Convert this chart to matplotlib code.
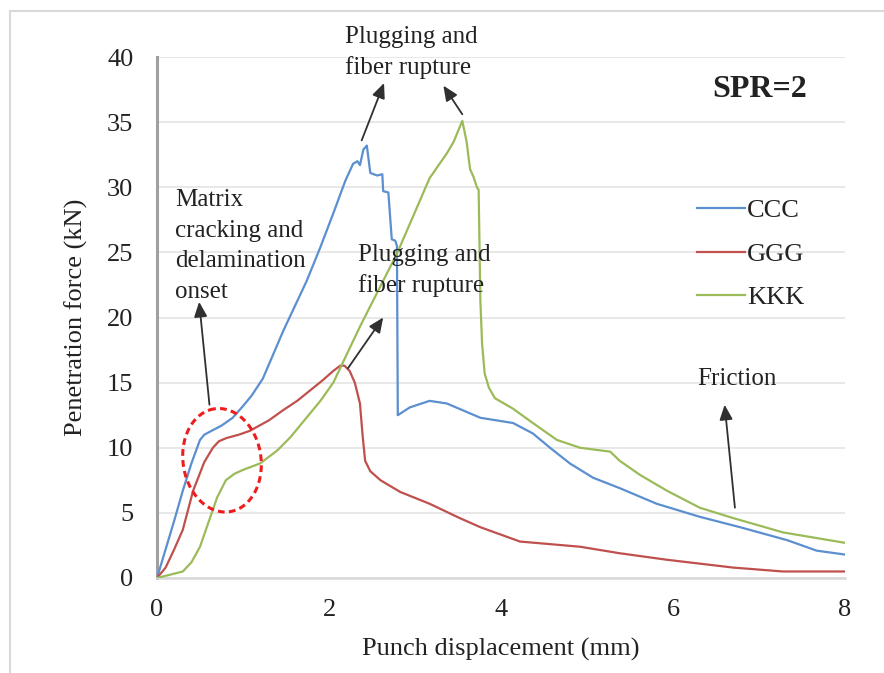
import numpy as np
import matplotlib
matplotlib.use('Agg')
import matplotlib.pyplot as plt
from matplotlib.patches import Rectangle

plt.rcParams['font.family'] = ['Liberation Serif', 'DejaVu Serif']

# punch displacement (mm) / penetration force (kN) for each laminate
ccc_x = [0, 0.1, 0.2, 0.3, 0.4, 0.5, 0.55, 0.62, 0.75, 0.88, 1.0, 1.1, 1.23,
         1.47, 1.74, 1.9, 2.05, 2.19, 2.28, 2.33, 2.36, 2.4, 2.44, 2.48, 2.56,
         2.62, 2.63, 2.69, 2.73, 2.77, 2.79, 2.80, 2.94, 3.17, 3.37, 3.76, 4.14,
         4.37, 4.57, 4.8, 5.07, 5.38, 5.81, 6.31, 6.78, 7.33, 7.67, 8.0]
ccc_y = [0, 2.2, 4.4, 6.7, 8.8, 10.6, 11.0, 11.25, 11.7, 12.3, 13.2, 14.0, 15.3,
         19.0, 22.8, 25.4, 28.0, 30.5, 31.8, 32.0, 31.7, 32.9, 33.2, 31.1, 30.9,
         31.0, 29.7, 29.6, 26.0, 25.9, 25.5, 12.5, 13.1, 13.6, 13.4, 12.3, 11.9,
         11.1, 10.0, 8.8, 7.7, 6.9, 5.7, 4.7, 3.9, 2.9, 2.1, 1.8]

ggg_x = [0, 0.1, 0.2, 0.3, 0.42, 0.55, 0.65, 0.72, 0.81, 0.95, 1.08, 1.3, 1.47,
         1.63, 1.93, 2.05, 2.13, 2.18, 2.24, 2.3, 2.36, 2.39, 2.42, 2.48, 2.6,
         2.83, 3.17, 3.52, 3.76, 4.22, 4.92, 5.38, 5.93, 6.7, 7.28, 8.0]
ggg_y = [0, 0.8, 2.2, 3.7, 6.7, 8.9, 10.0, 10.5, 10.75, 11.0, 11.3, 12.1, 12.9,
         13.6, 15.2, 15.9, 16.3, 16.3, 15.9, 15.0, 13.4, 11.0, 9.0, 8.2, 7.5,
         6.6, 5.7, 4.6, 3.9, 2.8, 2.4, 1.9, 1.4, 0.8, 0.5, 0.5]

kkk_x = [0, 0.3, 0.4, 0.5, 0.6, 0.7, 0.8, 0.9, 1.0, 1.2, 1.4, 1.55, 1.7, 1.9,
         2.05, 2.36, 2.79, 3.17, 3.37, 3.45, 3.55, 3.6, 3.64, 3.68, 3.72, 3.74,
         3.76, 3.78, 3.81, 3.86, 3.93, 4.14, 4.37, 4.65, 4.92, 5.27, 5.38, 5.62,
         5.93, 6.31, 6.7, 7.28, 8.0]
kkk_y = [0, 0.5, 1.2, 2.4, 4.3, 6.2, 7.5, 8.0, 8.3, 8.8, 9.8, 10.8, 12.0, 13.6,
         15.0, 19.3, 24.9, 30.7, 32.6, 33.5, 35.1, 33.5, 31.4, 30.8, 30.0, 29.8,
         21.3, 18.0, 15.7, 14.6, 13.8, 13.0, 11.9, 10.6, 10.0, 9.7, 9.0, 7.9,
         6.7, 5.4, 4.6, 3.5, 2.7]

labels = ['CCC', 'GGG', 'KKK']
colors = ['#5B8FD0', '#C0504D', '#9BBB59']

x_ticks = [0, 2, 4, 6, 8]
y_ticks = [0, 5, 10, 15, 20, 25, 30, 35, 40]

txt_col = '#222222'
fs = 19
note_fs = 18

fig = plt.figure(figsize=(8.84, 6.73), dpi=100)
# light frame around the whole chart
fig.patches.append(Rectangle((10 / 884, -0.1), 1.2, 1.1 - 11 / 673,
                             transform=fig.transFigure, fill=False,
                             edgecolor='#D9D9D9', lw=1.5))

ax = fig.add_axes([157 / 884, 1 - 578 / 673, 688 / 884, 521 / 673])

for xs, ys, lab, c in zip([ccc_x, ggg_x, kkk_x], [ccc_y, ggg_y, kkk_y], labels, colors):
    ax.plot(xs, ys, color=c, lw=1.6, label=lab, zorder=3, solid_joinstyle='round')

ax.set_xlim(0, 8)
ax.set_ylim(0, 40)
ax.set_xticks(x_ticks)
ax.set_yticks(y_ticks)
ax.tick_params(length=0, labelsize=fs, labelcolor=txt_col)
ax.tick_params(axis='y', pad=17)
ax.tick_params(axis='x', pad=15)
ax.yaxis.grid(True, color='#E6E6E6', lw=1.3)
ax.set_axisbelow(True)
for s in ['top', 'right']:
    ax.spines[s].set_visible(False)
ax.spines['left'].set_color('#A0A0A0')
ax.spines['left'].set_linewidth(2.2)
ax.spines['bottom'].set_color('#D9D9D9')
ax.spines['bottom'].set_linewidth(1.8)

ax.set_xlabel('Punch displacement (mm)', fontsize=fs, color=txt_col, labelpad=12)
ax.set_ylabel('Penetration force (kN)', fontsize=fs, color=txt_col, labelpad=14)

# text notes
ax.text(2.19, 40.35, 'Plugging and\nfiber rupture', fontsize=note_fs, color=txt_col,
        va='center', ha='left', linespacing=1.45, clip_on=False)
ax.text(2.34, 23.6, 'Plugging and\nfiber rupture', fontsize=note_fs, color=txt_col,
        va='center', ha='left', linespacing=1.45)
ax.text(0.21, 25.5, 'Matrix\ncracking and\ndelamination\nonset', fontsize=note_fs,
        color=txt_col, va='center', ha='left', linespacing=1.5)
ax.text(6.28, 15.3, 'Friction', fontsize=note_fs, color=txt_col, va='center', ha='left')
ax.text(6.46, 37.5, 'SPR=2', fontsize=23, fontweight='bold', color=txt_col,
        va='center', ha='left')

arrows = [((2.38, 33.6), (2.64, 38.0)),
          ((3.55, 35.6), (3.33, 37.8)),
          ((2.22, 16.1), (2.63, 20.0)),
          ((0.61, 13.3), (0.49, 21.2)),
          ((6.72, 5.4), (6.60, 13.3))]
for tail, head in arrows:
    ax.annotate('', xy=head, xytext=tail, annotation_clip=False,
                arrowprops=dict(arrowstyle='-|>,head_length=0.5,head_width=0.22',
                                color='#303030', lw=1.3, mutation_scale=18,
                                shrinkA=0, shrinkB=0))

# dashed ellipse round the knee of the curves (sized in pixels, tilted a bit)
px_x = 688 / 8.0
px_y = 521 / 40.0
t = np.linspace(0, 2 * np.pi, 200)
phi = np.deg2rad(98.3)
a, b = 52, 39
dx = a * np.cos(t) * np.cos(phi) - b * np.sin(t) * np.sin(phi)
dy = a * np.cos(t) * np.sin(phi) + b * np.sin(t) * np.cos(phi)
ax.plot(0.756 + dx / px_x, 9.04 + dy / px_y, color='#EE1C1C', lw=2.2,
        ls=(0, (2.2, 1.4)), zorder=4)

leg = ax.legend(loc='upper left', bbox_to_anchor=(697 / 884, 1 - 199 / 673),
                bbox_transform=fig.transFigure, frameon=False, fontsize=fs,
                handlelength=1.8, handletextpad=0.1, labelspacing=0.75,
                borderpad=0, borderaxespad=0)
for tx in leg.get_texts():
    tx.set_color(txt_col)

fig.savefig('out.png', dpi=100)
